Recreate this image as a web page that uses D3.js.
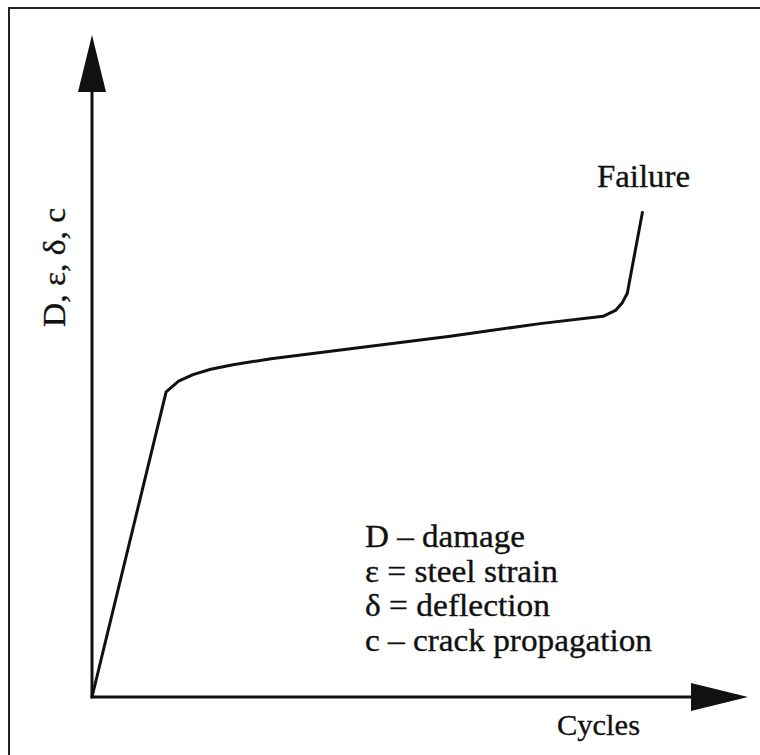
<!DOCTYPE html>
<html>
<head>
<meta charset="utf-8">
<script src="https://cdn.jsdelivr.net/npm/d3@7"></script>
<style>
  body { margin: 0; background: #fff; }
  text { font-family: "Liberation Serif", serif; fill: #111; stroke: #111; stroke-width: 0.35px; }
</style>
</head>
<body>
<svg id="chart"></svg>
<script>
// Chart size and styling
const WIDTH = 760;
const HEIGHT = 755;
const INK = "#111";

// Curve data (schematic units, 0-100 on both axes)
const cycles   = [0, 11.3, 13.2, 15.4, 18.1, 21.5, 27.3, 39.4, 54.6, 68.3, 77.9, 79.8, 80.8, 81.6, 83.9];
const response = [0, 46.1, 47.7, 48.7, 49.5, 50.2, 51.1, 52.6, 54.5, 56.4, 57.5, 58.4, 59.5, 61.0, 73.2];

// Texts
const xLabel = "Cycles";
const yLabel = "D, ε, δ, c";
const endLabel = "Failure";
const legendLines = ["D – damage", "ε = steel strain", "δ = deflection", "c – crack propagation"];
const legendWidths = [160, 193, 185, 287];

const svg = d3.select("#chart")
    .attr("width", WIDTH)
    .attr("height", HEIGHT)
    .attr("viewBox", [0, 0, WIDTH, HEIGHT]);

// Frame (only top and left are inside the picture)
svg.append("rect")
    .attr("x", 9).attr("y", 8)
    .attr("width", 900).attr("height", 900)
    .attr("fill", "none")
    .attr("stroke", "#222")
    .attr("stroke-width", 2);

const x = d3.scaleLinear().domain([0, 100]).range([92, 748]);
const y = d3.scaleLinear().domain([0, 100]).range([697, 35]);

// Axes drawn as arrows
const HEAD_LEN = 57;
const HEAD_HALF = 14;

svg.append("line")
    .attr("x1", x(0)).attr("y1", y(0))
    .attr("x2", x(0)).attr("y2", y(100) + HEAD_LEN - 2)
    .attr("stroke", INK).attr("stroke-width", 3);
svg.append("path")
    .attr("d", `M${x(0)},${y(100)} L${x(0) + HEAD_HALF},${y(100) + HEAD_LEN} L${x(0) - HEAD_HALF},${y(100) + HEAD_LEN}Z`)
    .attr("fill", INK);

svg.append("line")
    .attr("x1", x(0) - 1.5).attr("y1", y(0))
    .attr("x2", x(100) - HEAD_LEN + 2).attr("y2", y(0))
    .attr("stroke", INK).attr("stroke-width", 3);
svg.append("path")
    .attr("d", `M${x(100)},${y(0)} L${x(100) - HEAD_LEN},${y(0) - HEAD_HALF} L${x(100) - HEAD_LEN},${y(0) + HEAD_HALF}Z`)
    .attr("fill", INK);

// Damage curve
const line = d3.line()
    .x(d => x(d[0]))
    .y(d => y(d[1]));

svg.append("path")
    .datum(d3.zip(cycles, response))
    .attr("d", line)
    .attr("fill", "none")
    .attr("stroke", INK)
    .attr("stroke-width", 3)
    .attr("stroke-linejoin", "round")
    .attr("stroke-linecap", "round");

// Labels
svg.append("text")
    .attr("x", 557).attr("y", 735)
    .attr("font-size", 30)
    .attr("textLength", 83).attr("lengthAdjust", "spacingAndGlyphs")
    .text(xLabel);

svg.append("text")
    .attr("transform", "translate(65,327) rotate(-90)")
    .attr("font-size", 31)
    .attr("textLength", 119).attr("lengthAdjust", "spacingAndGlyphs")
    .text(yLabel);

svg.append("text")
    .attr("x", 597).attr("y", 187)
    .attr("font-size", 32)
    .attr("textLength", 93).attr("lengthAdjust", "spacingAndGlyphs")
    .text(endLabel);

// Legend block
svg.append("g")
    .selectAll("text")
    .data(legendLines)
    .join("text")
    .attr("x", 365)
    .attr("y", (d, i) => 547 + i * 34.7)
    .attr("font-size", 31)
    .attr("textLength", (d, i) => legendWidths[i])
    .attr("lengthAdjust", "spacingAndGlyphs")
    .text(d => d);
</script>
</body>
</html>
